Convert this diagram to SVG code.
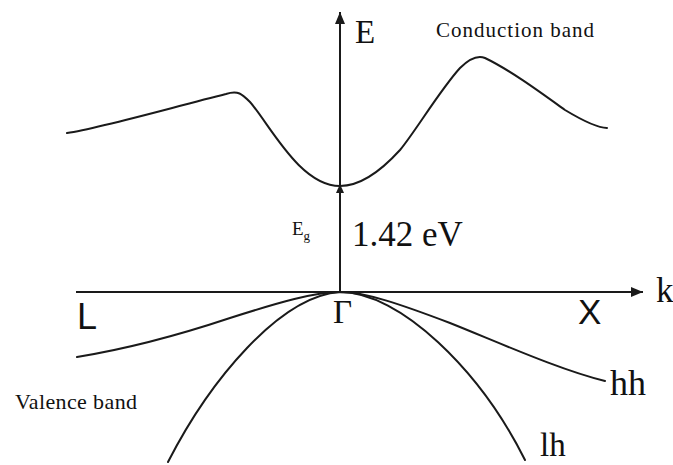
<svg xmlns="http://www.w3.org/2000/svg" width="673" height="465" viewBox="0 0 673 465">
<style>
.band{fill:none;stroke:#1a1a1a;stroke-width:2;stroke-linecap:round}
.axis{fill:none;stroke:#1a1a1a;stroke-width:2}
.serif{font-family:"Liberation Serif","Times New Roman",serif;fill:#111}
.sans{font-family:"Liberation Sans",Arial,sans-serif;fill:#111}
</style>
<defs>
<marker id="ah" viewBox="0 0 12 10" refX="12" refY="5" markerWidth="12" markerHeight="10" markerUnits="userSpaceOnUse" orient="auto">
<path d="M0,0 L12,5 L0,10 Z" fill="#1a1a1a"/>
</marker>
</defs>
<rect width="673" height="465" fill="#fff"/>
<g id="connectors">
<line class="axis" x1="76" y1="292" x2="643" y2="292" marker-end="url(#ah)"/>
<line class="axis" x1="340" y1="292" x2="340" y2="12" marker-end="url(#ah)"/>
<path d="M336,193 L340,184 L344,193 Z" fill="#1a1a1a"/>
</g>
<g id="conduction-band">
<path class="band" d="M67,133 C100,128 170,108 226,94 C238,90 242,94 250,102 C270,125 300,186 340,186 C360,186 380,172 400,150 C415,132 440,90 460,68 C470,58 478,55 485,58 C510,70 540,92 565,110 C585,122 598,128 607,128"/>
<text class="serif" x="436" y="37" font-size="21" textLength="158">Conduction band</text>
</g>
<g id="hh-band">
<path class="band" d="M77,357 C120,350 170,338 230,318 C280,302 315,292 340,292 C365,292 400,304 450,323 C500,343 560,370 605,381"/>
<text class="serif" x="610" y="395" font-size="36">hh</text>
</g>
<g id="lh-band">
<path class="band" d="M168,462 C210,380 280,296 340,292 C400,292 480,370 525,460"/>
<text class="serif" x="540" y="456" font-size="33">lh</text>
</g>
<g id="labels">
<text class="serif" x="355" y="43" font-size="33">E</text>
<text class="serif" x="656" y="302" font-size="35">k</text>
<text class="sans" x="77" y="329" font-size="36">L</text>
<text class="sans" x="578" y="324" font-size="35">X</text>
<text class="serif" x="333" y="323" font-size="33">Γ</text>
<text class="serif" x="292" y="235" font-size="19">E<tspan font-size="13" dy="5">g</tspan></text>
<text class="serif" x="352" y="246" font-size="35">1.42 eV</text>
<text class="serif" x="15" y="409" font-size="22" textLength="122">Valence band</text>
</g>
</svg>
